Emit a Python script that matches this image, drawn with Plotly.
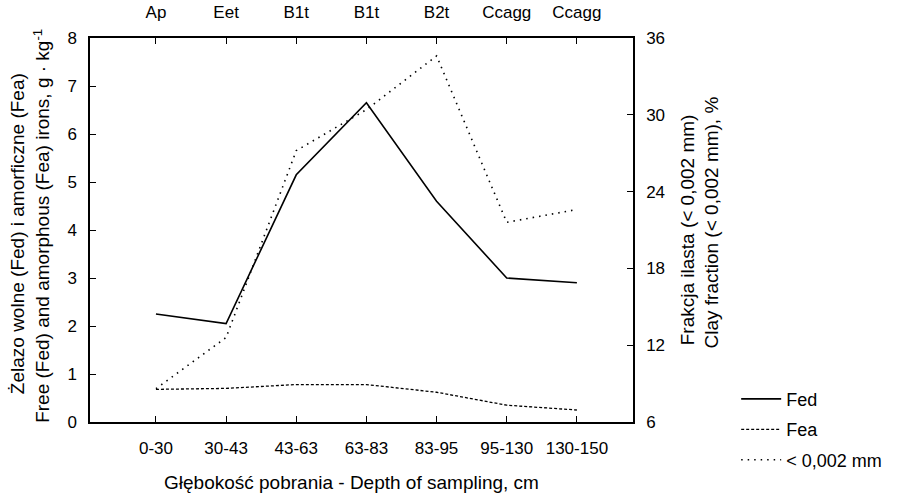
import plotly.graph_objects as go

depths = ["0-30", "30-43", "43-63", "63-83", "83-95", "95-130", "130-150"]
horizons = ["Ap", "Eet", "B1t", "B1t", "B2t", "Ccagg", "Ccagg"]
fed = [2.25, 2.05, 5.15, 6.65, 4.6, 3.0, 2.9]
fea = [0.68, 0.70, 0.78, 0.78, 0.62, 0.35, 0.25]
clay = [8.6, 12.6, 27.2, 30.4, 34.6, 21.6, 22.6]

xs = list(range(len(depths)))
fam = "Liberation Sans, Arial, sans-serif"
font = dict(family=fam, size=17, color="black")
tfont = dict(family=fam, size=19, color="black")
lfont = dict(family=fam, size=18, color="black")

fig = go.Figure()
fig.add_trace(go.Scatter(x=xs, y=fed, name="Fed", mode="lines", legendgroup="a",
                         line=dict(color="black", width=1.6)))
fig.add_trace(go.Scatter(x=xs, y=fea, name="Fea", mode="lines", legendgroup="b",
                         line=dict(color="black", width=1.3, dash="3px,2px")))
fig.add_trace(go.Scatter(x=xs, y=clay, name="< 0,002 mm", mode="lines", yaxis="y2",
                         legendgroup="c",
                         line=dict(color="black", width=1.6, dash="1.5px,5px")))
# invisible trace to activate top axis
fig.add_trace(go.Scatter(x=xs, y=fed, xaxis="x2", mode="lines", showlegend=False,
                         line=dict(color="rgba(0,0,0,0)"), hoverinfo="skip"))

xr = [-0.94, 6.8]
axis_common = dict(showline=True, linecolor="black", linewidth=1.5, mirror=False,
                   ticks="inside", ticklen=6, tickcolor="black", showgrid=False,
                   zeroline=False, tickfont=font, automargin=False)

fig.update_layout(
    width=899, height=500,
    margin=dict(l=90, r=257, t=38, b=78),
    paper_bgcolor="white", plot_bgcolor="white",
    font=font,
    xaxis=dict(range=xr, tickvals=xs, ticktext=depths, ticklabelstandoff=10, **axis_common),
    xaxis2=dict(range=xr, tickvals=xs, ticktext=horizons, overlaying="x", side="top",
                anchor="y", ticklabelstandoff=11, **axis_common),
    yaxis=dict(range=[0, 8], tickvals=list(range(9)), ticklabelstandoff=8, **axis_common),
    yaxis2=dict(range=[6, 36], tickvals=[6, 12, 18, 24, 30, 36], overlaying="y",
                side="right", ticklabelstandoff=8, **axis_common),
    legend=dict(x=1.19, y=-0.02, xanchor="left", yanchor="middle", font=lfont,
                bgcolor="rgba(0,0,0,0)", tracegroupgap=4, itemwidth=40,
                traceorder="grouped"),
    showlegend=True,
)

fig.add_annotation(text="Żelazo wolne (Fed) i amorficzne (Fea)", textangle=-90,
                   xref="paper", yref="paper", x=-0.132, y=0.49, showarrow=False,
                   xanchor="center", yanchor="middle", font=tfont)
fig.add_annotation(text="Free (Fed) and amorphous (Fea) irons, g · kg<sup>-1</sup>", textangle=-90,
                   xref="paper", yref="paper", x=-0.089, y=0.51, showarrow=False,
                   xanchor="center", yanchor="middle", font=tfont)
fig.add_annotation(text="Frakcja ilasta (< 0,002 mm)", textangle=-90,
                   xref="paper", yref="paper", x=1.1, y=0.5, showarrow=False,
                   xanchor="center", yanchor="middle", font=tfont)
fig.add_annotation(text="Clay fraction (< 0,002 mm), %", textangle=-90,
                   xref="paper", yref="paper", x=1.144, y=0.52, showarrow=False,
                   xanchor="center", yanchor="middle", font=tfont)
fig.add_annotation(text="Głębokość pobrania - Depth of sampling, cm",
                   xref="paper", yref="paper", x=0.482, y=-0.158, showarrow=False,
                   xanchor="center", yanchor="middle", font=tfont)

fig.write_html("out.html")
